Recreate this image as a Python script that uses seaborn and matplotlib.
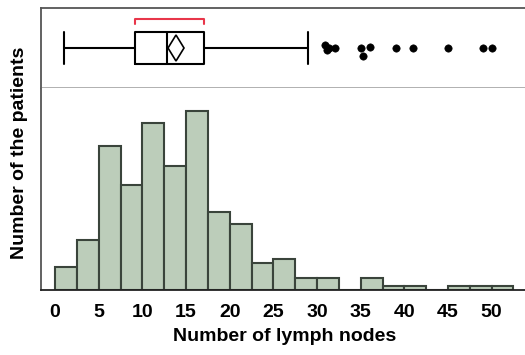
import matplotlib
matplotlib.use("Agg")
import matplotlib.pyplot as plt
import numpy as np
import pandas as pd
import seaborn as sns

# histogram: bins of width 2.5 starting at 0
bin_left = [0, 2.5, 5, 7.5, 10, 12.5, 15, 17.5, 20, 22.5, 25, 27.5, 30, 32.5,
            35, 37.5, 40, 42.5, 45, 47.5, 50]
counts = [6, 13, 37, 27, 43, 32, 46, 20, 17, 7, 8, 3, 3, 0, 3, 1, 1, 0, 1, 1, 1]

# box plot summary
whisker_lo = 1
q1 = 9.1
median = 12.8
mean = 13.9
q3 = 17.0
whisker_hi = 29
outliers = [30.9, 31.1, 31.4, 32.1, 35.0, 35.3, 36.1, 39.0, 41.0, 45.0, 49.0, 50.0]
outlier_y = [0.54, 0.47, 0.5, 0.5, 0.5, 0.4, 0.52, 0.5, 0.5, 0.5, 0.5, 0.5]

sns.set_style("white")
plt.rcParams['font.family'] = ['Liberation Sans', 'DejaVu Sans']
plt.rcParams['text.color'] = 'black'
plt.rcParams['axes.labelcolor'] = 'black'
plt.rcParams['xtick.labelcolor'] = 'black'

fig = plt.figure(figsize=(5.25, 3.55), dpi=100)
ax_box = fig.add_axes([0.078, 0.752, 0.93, 0.225])
ax_hist = fig.add_axes([0.078, 0.183, 0.93, 0.569], sharex=ax_box)

# box part
stats = [dict(whislo=whisker_lo, q1=q1, med=median, q3=q3, whishi=whisker_hi,
              mean=mean, fliers=[])]
ax_box.bxp(stats, positions=[0.5], widths=0.4, vert=False, showmeans=True,
           showfliers=False, patch_artist=False,
           boxprops=dict(color='black', linewidth=1.5),
           medianprops=dict(color='black', linewidth=1.5),
           whiskerprops=dict(color='black', linewidth=1.5),
           capprops=dict(color='black', linewidth=1.5),
           meanprops=dict(marker='d', markerfacecolor='white',
                          markeredgecolor='black', markersize=13,
                          markeredgewidth=1.2),
           capwidths=0.4, manage_ticks=False)
sns.scatterplot(x=outliers, y=outlier_y, ax=ax_box, color='black', s=28,
                edgecolor='black', legend=False)
ax_box.plot([q1, q1, q3, q3], [0.8, 0.87, 0.87, 0.8], color='#e8364a', lw=1.5)
ax_box.set_ylim(0, 1)
ax_box.set_yticks([])
ax_box.tick_params(bottom=False, labelbottom=False)
for s in ['left', 'top']:
    ax_box.spines[s].set_color('#555555')
    ax_box.spines[s].set_linewidth(1.3)
ax_box.spines['right'].set_visible(False)
ax_box.spines['bottom'].set_color('#aaaaaa')
ax_box.spines['bottom'].set_linewidth(1.3)

# histogram part
df = pd.DataFrame({'nodes': np.array(bin_left) + 1.25, 'count': counts})
sns.histplot(data=df, x='nodes', weights='count', binwidth=2.5, binrange=(0, 52.5),
             color='#bccdba', alpha=1, edgecolor='#3a443b', linewidth=1.5,
             ax=ax_hist)
ax_hist.set_xlim(-1.62, 54.3)
ax_hist.set_ylim(0, 52)
ax_hist.set_yticks([])
edges = np.arange(0, 52.6, 2.5)
ax_hist.set_xticks(edges)
ax_hist.set_xticklabels(['' if i % 2 else str(int(v)) for i, v in enumerate(edges)])
ax_hist.tick_params(axis='x', direction='out', length=6, width=1.2,
                    color='#999999', labelsize=14, pad=4)
for lab in ax_hist.get_xticklabels():
    lab.set_fontweight('bold')
ax_hist.spines['top'].set_visible(False)
ax_hist.spines['right'].set_visible(False)
ax_hist.spines['left'].set_color('#555555')
ax_hist.spines['left'].set_linewidth(1.3)
ax_hist.spines['bottom'].set_color('#222222')
ax_hist.spines['bottom'].set_linewidth(1.3)
ax_hist.set_xlabel('Number of lymph nodes', fontsize=14, fontweight='bold', labelpad=5)
ax_hist.set_ylabel('')
fig.text(0.037, 0.57, 'Number of the patients', rotation=90, fontsize=14,
         fontweight='bold', ha='center', va='center')

fig.savefig('out.png', dpi=100)
